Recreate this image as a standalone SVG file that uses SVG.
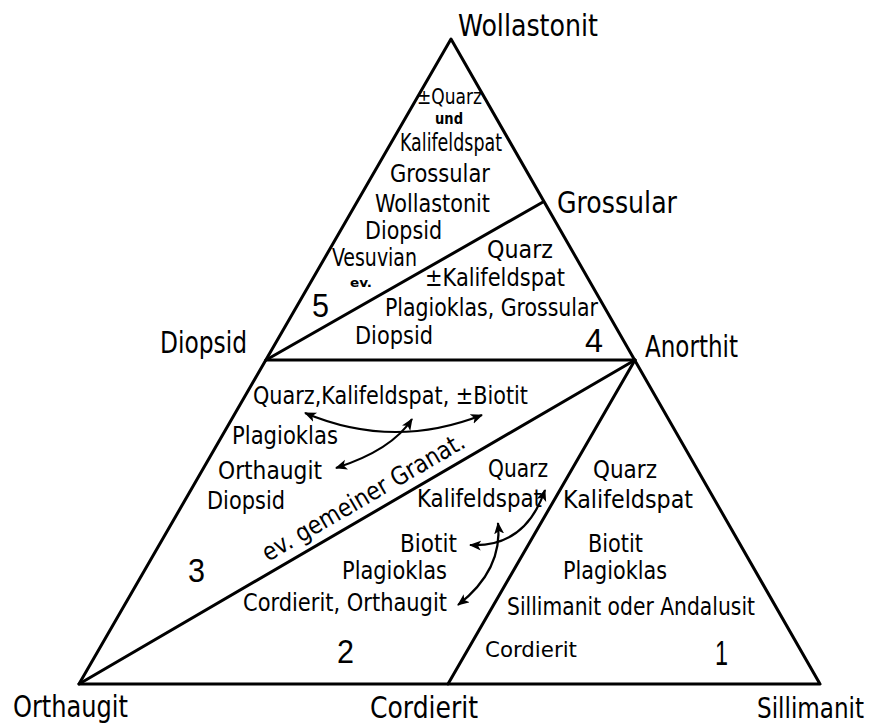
<svg xmlns="http://www.w3.org/2000/svg" width="876" height="726" viewBox="0 0 876 726">
<style>
text{font-family:"DejaVu Sans Condensed","DejaVu Sans","Liberation Sans",sans-serif;fill:#000;}
.v{font-size:30px;}
.t{font-size:25px;}
.s{font-size:14px;font-weight:bold;}
.n{font-size:33px;font-family:"Liberation Sans","DejaVu Sans",sans-serif;}
.ln{stroke:#000;stroke-width:3;fill:none;stroke-linecap:round;stroke-linejoin:round;}
.ar{stroke:#000;stroke-width:2.2;fill:none;marker-start:url(#ah);marker-end:url(#ah);}
</style>
<defs>
<marker id="ah" markerUnits="userSpaceOnUse" markerWidth="14" markerHeight="12" refX="11" refY="5" orient="auto-start-reverse">
<path d="M0,0 L12,5 L0,10 L3,5 Z" fill="#000"/>
</marker>
</defs>
<rect width="876" height="726" fill="#fff"/>
<g id="connectors">
<path class="ln" d="M451,39 L820,684 L79,684 Z"/>
<line class="ln" x1="266" y1="360" x2="543" y2="202"/>
<line class="ln" x1="266" y1="360" x2="635" y2="360"/>
<line class="ln" x1="79" y1="684" x2="635" y2="360"/>
<line class="ln" x1="448" y1="684" x2="635" y2="360"/>
<path class="ar" d="M305,413 Q393,450 482,415"/>
<path class="ar" d="M336,468 Q392,450 412,419"/>
<path class="ar" d="M470,545 Q525,548 545,490"/>
<path class="ar" d="M498,523 Q503,570 458,605"/>
</g>
<g id="vertex-wollastonit"><text class="v" x="458" y="36" textLength="140" lengthAdjust="spacingAndGlyphs">Wollastonit</text></g>
<g id="vertex-grossular"><text class="v" x="557" y="213" textLength="120" lengthAdjust="spacingAndGlyphs">Grossular</text></g>
<g id="vertex-diopsid"><text class="v" x="160" y="353" textLength="87" lengthAdjust="spacingAndGlyphs">Diopsid</text></g>
<g id="vertex-anorthit"><text class="v" x="645" y="357" textLength="93" lengthAdjust="spacingAndGlyphs">Anorthit</text></g>
<g id="vertex-orthaugit"><text class="v" x="13" y="717" textLength="115" lengthAdjust="spacingAndGlyphs">Orthaugit</text></g>
<g id="vertex-cordierit"><text class="v" x="370" y="718" textLength="108" lengthAdjust="spacingAndGlyphs">Cordierit</text></g>
<g id="vertex-sillimanit"><text class="v" x="757" y="718" textLength="107" lengthAdjust="spacingAndGlyphs" style="font-size:28px">Sillimanit</text></g>
<g id="field-5">
<text class="t" x="417" y="104" textLength="65" lengthAdjust="spacingAndGlyphs" style="font-size:22px">±Quarz</text>
<text class="s" x="435" y="124" textLength="28" lengthAdjust="spacingAndGlyphs" style="font-size:16px">und</text>
<text class="t" x="400" y="151" textLength="102" lengthAdjust="spacingAndGlyphs">Kalifeldspat</text>
<text class="t" x="390" y="182" textLength="100" lengthAdjust="spacingAndGlyphs">Grossular</text>
<text class="t" x="375" y="212" textLength="115" lengthAdjust="spacingAndGlyphs">Wollastonit</text>
<text class="t" x="365" y="239" textLength="77" lengthAdjust="spacingAndGlyphs">Diopsid</text>
<text class="t" x="332" y="266" textLength="85" lengthAdjust="spacingAndGlyphs">Vesuvian</text>
<text class="s" x="350" y="287" textLength="22" lengthAdjust="spacingAndGlyphs" style="font-size:13px">ev.</text>
<text class="n" x="312" y="317" textLength="17" lengthAdjust="spacingAndGlyphs">5</text>
</g>
<g id="field-4">
<text class="t" x="487" y="258" textLength="66" lengthAdjust="spacingAndGlyphs">Quarz</text>
<text class="t" x="425" y="286" textLength="140" lengthAdjust="spacingAndGlyphs">±Kalifeldspat</text>
<text class="t" x="385" y="316" textLength="213" lengthAdjust="spacingAndGlyphs">Plagioklas, Grossular</text>
<text class="t" x="355" y="344" textLength="78" lengthAdjust="spacingAndGlyphs">Diopsid</text>
<text class="n" x="585" y="352" textLength="18" lengthAdjust="spacingAndGlyphs">4</text>
</g>
<g id="field-3">
<text class="t" x="253" y="404" textLength="275" lengthAdjust="spacingAndGlyphs">Quarz,Kalifeldspat, ±Biotit</text>
<text class="t" x="232" y="444" textLength="106" lengthAdjust="spacingAndGlyphs">Plagioklas</text>
<text class="t" x="218" y="479" textLength="104" lengthAdjust="spacingAndGlyphs">Orthaugit</text>
<text class="t" x="207" y="509" textLength="78" lengthAdjust="spacingAndGlyphs">Diopsid</text>
<text class="n" x="188" y="582" textLength="17" lengthAdjust="spacingAndGlyphs">3</text>
<text class="t" transform="translate(268,562) rotate(-30.15)" x="0" y="0" textLength="230" lengthAdjust="spacingAndGlyphs">ev. gemeiner Granat.</text>
</g>
<g id="field-2">
<text class="t" x="488" y="477" textLength="60" lengthAdjust="spacingAndGlyphs">Quarz</text>
<text class="t" x="417" y="507" textLength="125" lengthAdjust="spacingAndGlyphs">Kalifeldspat</text>
<text class="t" x="400" y="552" textLength="57" lengthAdjust="spacingAndGlyphs">Biotit</text>
<text class="t" x="342" y="579" textLength="105" lengthAdjust="spacingAndGlyphs">Plagioklas</text>
<text class="t" x="243" y="611" textLength="204" lengthAdjust="spacingAndGlyphs">Cordierit, Orthaugit</text>
<text class="n" x="337" y="663" textLength="17" lengthAdjust="spacingAndGlyphs">2</text>
</g>
<g id="field-1">
<text class="t" x="593" y="478" textLength="64" lengthAdjust="spacingAndGlyphs">Quarz</text>
<text class="t" x="563" y="508" textLength="130" lengthAdjust="spacingAndGlyphs">Kalifeldspat</text>
<text class="t" x="588" y="552" textLength="55" lengthAdjust="spacingAndGlyphs">Biotit</text>
<text class="t" x="563" y="579" textLength="104" lengthAdjust="spacingAndGlyphs">Plagioklas</text>
<text class="t" x="507" y="615" textLength="248" lengthAdjust="spacingAndGlyphs">Sillimanit oder Andalusit</text>
<text class="t" x="485" y="657" textLength="92" lengthAdjust="spacingAndGlyphs" style="font-size:22px">Cordierit</text>
<text class="n" x="715" y="665" textLength="13" lengthAdjust="spacingAndGlyphs" style="font-size:35px">1</text>
</g>
</svg>
